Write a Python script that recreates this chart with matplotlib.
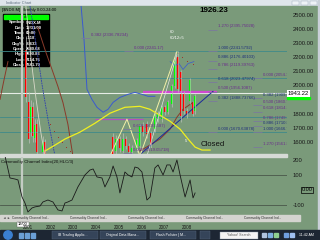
import numpy as np
import matplotlib
matplotlib.use("Agg")
import matplotlib.pyplot as plt
from matplotlib.patches import Rectangle, Circle

plt.rcParams['font.family'] = ['Liberation Sans', 'DejaVu Sans']

# ---- data ----
# monthly candles: year, open, high, low, close
candle_year = [2000.91, 2001.05, 2001.14, 2001.22, 2001.31, 2001.40, 2001.66, 2001.75,
               2004.75, 2004.88, 2005.06, 2005.19, 2005.32, 2005.45, 2005.58, 2005.80,
               2005.93, 2006.06, 2006.24, 2006.41, 2006.59, 2006.72, 2006.90, 2007.04,
               2007.17, 2007.34, 2007.48, 2007.61, 2007.74, 2007.87, 2008.00, 2008.14,
               2008.27, 2008.36]
candle_open = [2250, 1880, 1670, 1845, 1630, 1730, 1530, 1600,
               1634, 1535, 1620, 1535, 1620, 1570, 1530, 1550,
               1570, 1711, 1725, 1660, 1690, 1760, 1761, 1845,
               1810, 1866, 1993, 2204, 2092, 1937, 1817, 1887,
               1880, 1817]
candle_high = [2350, 1950, 1900, 1880, 1760, 1760, 1640, 1620,
               1660, 1650, 1640, 1660, 1640, 1590, 1580, 1630,
               1730, 1740, 1750, 1680, 1810, 1820, 1860, 1860,
               1900, 2010, 2239, 2241, 2110, 1960, 1840, 2055,
               1890, 1940]
candle_low = [1880, 1590, 1640, 1600, 1600, 1500, 1490, 1480,
              1480, 1510, 1530, 1520, 1550, 1500, 1510, 1530,
              1550, 1640, 1630, 1560, 1670, 1740, 1740, 1790,
              1800, 1850, 1980, 1950, 1740, 1800, 1770, 1870,
              1780, 1800]
candle_close = [1915, 1620, 1845, 1640, 1720, 1530, 1600, 1510,
                1500, 1620, 1560, 1620, 1570, 1530, 1560, 1610,
                1711, 1670, 1655, 1580, 1796, 1800, 1845, 1810,
                1880, 1993, 2170, 1972, 1782, 1817, 1796, 2042,
                1800, 1923]

ma_yellow_year = [2001.75, 2002.19, 2002.63, 2003.29, 2003.95, 2004.61, 2005.27, 2005.93,
                  2006.37, 2006.81, 2007.26, 2007.70, 2008.05, 2008.36, 2008.66, 2009.02]
ma_yellow = [1535, 1577, 1620, 1669, 1732, 1803, 1845, 1852,
             1831, 1789, 1746, 1690, 1620, 1563, 1542, 1542]

ma_blue_year = [2003.34, 2003.47, 2003.60, 2003.82, 2004.04, 2004.31, 2004.53, 2004.75,
                2005.05, 2005.41, 2005.71, 2006.02, 2006.29, 2006.59]
ma_blue = [2563, 2324, 1972, 1901, 1845, 1810, 1831, 1880,
           1915, 1937, 1951, 1937, 1923, 1923]

fast_blue_year = [2007.26, 2007.48, 2007.65, 2007.83, 2008.05, 2008.31]
fast_blue = [2169, 2141, 2155, 2113, 2155, 2169]

left_blue_year = [2001.09, 2001.36, 2001.62, 2001.88, 2002.19]
left_blue = [2563, 2289, 2007, 1761, 1500]

band_year = [2000.91, 2001.14, 2001.36, 2001.58, 2001.75]
band = [2563, 2183, 1901, 1655, 1500]

brown_year = [2001.44, 2001.75, 2002.06, 2002.32, 2002.54, 2002.76, 2002.98]
brown = [2408, 2254, 2113, 1993, 1880, 1725, 1500]
brown_left_year = [1999.77, 1999.95, 2000.12]
brown_left = [1901, 2042, 2169]
brown_right_year = [2005.93, 2006.81, 2007.26, 2007.56, 2007.83, 2008.27]
brown_right = [1535, 1620, 1690, 1775, 1831, 1880]

sar_year = [2001.97, 2002.15, 2002.32, 2002.50, 2002.68, 2002.85, 2007.60, 2007.80, 2008.00, 2008.27]
sar = [1725, 1676, 1634, 1599, 1563, 1535, 2232, 2200, 2170, 2155]

zig_year = [2004.61, 2005.36, 2005.93, 2007.56]
zig = [1500, 1761, 1500, 2239]
zig2_year = [2006.24, 2007.56]
zig2 = [1500, 2218]

trend_year = [2005.71, 2009.15]
trend = [1479, 1958]

last_price = 1943.22
fib0_levels = [2241.17, 2054.76, 1775, 1670.64]

fib_labels = ["1.270 (2395.75028)", "1.000 (2241.5792)", "0.886 (2176.40103)",
              "0.786 (2119.39763)", "0.618 (2023.47974)", "0.500 (1956.1087)",
              "0.382 (1888.73766)",
              "0.000 (2054.76)", "0.382 (1909.62708)", "0.500 (1860.73)",
              "0.618 (1814.83892)", "0.786 (1749.76484)", "0.886 (1710.83804)",
              "1.000 (1666.70)", "1.270 (1561.8233)",
              "0.000 (1670.63878)",
              "0.382 (2336.78234)", "0.000 (2241.17)", "0.618 (1691.587)",
              "0.000 (1519.05718)"]
fib_prices = [2395.75, 2241.58, 2176.40, 2119.40, 2023.48, 1956.11, 1888.74,
              2054.76, 1909.63, 1860.73, 1814.84, 1749.76, 1710.84, 1666.70, 1561.82,
              1670.64, 2336.78, 2241.17, 1691.59, 1519.06]
fib_label_year = [2009.37] * 7 + [2011.35] * 8 + [2009.37, 2003.78, 2005.67, 2005.63, 2005.63]
fib_colors = ['#6b2c8c', '#1f2f7a', '#1f2f7a', '#6b2c8c', '#1f2f7a', '#6b2c8c', '#1f2f7a',
              '#6b2c8c', '#1f2f7a', '#6b2c8c', '#6b2c8c', '#6b2c8c', '#1f2f7a', '#1f2f7a',
              '#6b2c8c', '#1f2f7a', '#6b2c8c', '#6b2c8c', '#6b2c8c', '#6b2c8c']

cci_year = [1999.90, 2000.00, 2000.21, 2000.43, 2000.56, 2000.74, 2000.87, 2001.00,
            2001.18, 2001.31, 2001.53, 2001.66, 2001.88, 2002.10, 2002.32, 2002.50,
            2002.63, 2002.76, 2002.94, 2003.20, 2003.51, 2003.73, 2003.87, 2004.04,
            2004.26, 2004.39, 2004.61, 2004.75, 2004.92, 2005.05, 2005.27, 2005.41,
            2005.58, 2005.71, 2005.85, 2006.02, 2006.24, 2006.38, 2006.59, 2006.73,
            2006.95, 2007.12, 2007.26, 2007.39, 2007.56, 2007.70, 2007.92, 2008.14,
            2008.27, 2008.36]
cci = [267, 220, 80, 73, 67, -47, -87, -147,
       -120, -113, -107, -80, -67, -80, -133, -140,
       -87, -80, -67, 20, 100, 133, 140, 87,
       80, 20, 87, 160, 87, -20, 120, 100,
       87, 153, 147, 120, -67, -47, 147, 167,
       100, 167, 167, 120, 200, 100, -47, 67,
       -53, -20]

years = [2001, 2002, 2003, 2004, 2005, 2006, 2007, 2008]
price_ticks = [2500, 2400, 2300, 2200, 2100, 2000, 1800, 1700, 1600]
cci_ticks = [200, 100, -100]

info_keys = ["Symbol:", "Date:", "Time:", "Chg:", "Chg%:", "Open:", "High:", "Low:", "Close:"]
info_vals = ["$NDX.M", "12/31/00", "00:00", "-.118", "-8.633", "2580.68", "2890.83", "2114.76", "2341.70"]

# ---- layout ----
W, H = 320, 240
GREEN = '#7a9a7a'
fig = plt.figure(figsize=(3.2, 2.4), dpi=100)


def px_axes(x0, y0, x1, y1):
    return fig.add_axes([x0 / W, 1 - y1 / H, (x1 - x0) / W, (y1 - y0) / H])


bg = fig.add_axes([0, 0, 1, 1])
bg.set_xlim(0, W)
bg.set_ylim(H, 0)
bg.axis('off')
bg.add_patch(Rectangle((0, 0), W, 6, color='#dfe5eb'))
bg.add_patch(Rectangle((0, 6), W, 224, color=GREEN))
bg.add_patch(Rectangle((0, 154), 287, 2.5, color='#d6dad6'))
bg.add_patch(Rectangle((0, 215), 300, 6, color='#d4d4d0'))
bg.add_patch(Rectangle((318, 0), 2, 230, color='#c9d0d8'))
bg.add_patch(Rectangle((0, 230), W, 10, color='#1d2633'))
bg.text(6, 3, "Indicator Chart", fontsize=2.8, color='#607080', va='center')
for bx in [292, 301, 310]:
    bg.add_patch(Rectangle((bx, 1), 7, 4, fc='#eef2f6', ec='#9aa8b8', lw=0.3))
bg.text(2, 9.5, "[$NDX.M] Monthly 0:00-24:00", fontsize=3, color='black', va='center')
bg.text(214, 10.5, "1926.23", fontsize=5.8, fontweight='bold', ha='center', va='center')
bg.text(213, 145, "Closed", fontsize=5.6, ha='center', va='center', color='#101010')

# tab strip
for tx in [12, 70, 128, 186, 244]:
    bg.text(tx, 218, "Commodity Channel Ind...", fontsize=2.3, color='#303030', va='center')
bg.text(3, 218, "\u25c4 \u25ba", fontsize=2.3, color='#303030', va='center')

# taskbar
bg.add_patch(Circle((8, 235), 4.2, color='#3b7fd0'))
for qx in [19, 25, 31]:
    bg.add_patch(Rectangle((qx, 232.5), 4, 5, color='#6b9fd6'))
for (tx, label) in [(52, "IB Trading Applic..."), (100, "Original Data Mana..."),
                    (150, "Flash Pollster | M...")]:
    bg.add_patch(Rectangle((tx, 231), 46, 8, fc='#354459', ec='#55657a', lw=0.3))
    bg.text(tx + 6, 235, label, fontsize=2.5, color='white', va='center')
bg.add_patch(Rectangle((200, 231), 10, 8, fc='#354459', ec='#55657a', lw=0.3))
bg.add_patch(Rectangle((220, 231.5), 38, 7, fc='#f4f4f4', ec='#8898a8', lw=0.3))
bg.text(239, 235, "Yahoo! Search", fontsize=2.6, color='#555555', ha='center', va='center')
for ix, c in zip([262, 268, 274, 284, 290], ['#b0c4de', '#7fb0e0', '#8fd08f', '#70a0e0', '#a0c0f0']):
    bg.add_patch(Rectangle((ix, 233), 4, 4, color=c))
bg.text(306, 235, "11:42 AM", fontsize=2.6, color='white', ha='center', va='center')

# ---- main price panel ----
X0 = 1999.77
XSPAN = 287 / 22.71
ax = px_axes(0, 6, 287, 154)
ax.set_facecolor('none')
ax.set_xlim(X0, X0 + XSPAN)
ax.set_ylim(1514, 2563)
for s in ax.spines.values():
    s.set_visible(False)
ax.set_xticks([])
ax.yaxis.tick_right()
ax.set_yticks(price_ticks)
ax.set_yticklabels([f"{p:.2f}" for p in price_ticks])
ax.tick_params(axis='y', length=0, pad=4, labelsize=4.2, labelcolor='#1a1a1a')

for lv in fib0_levels:
    ax.axhline(lv, color='#3f8a8a', lw=0.6)
ax.axhline(last_price, color='#e6ece6', lw=0.8)
ax.hlines(1956.11, 2006.07, 2009.33, color='#d048d0', lw=1.6)
ax.hlines(1765, 2003.95, 2006.07, color='#b050c0', lw=0.9)
ax.axvline(2000.74, color='#c4ccc4', lw=1.6)

ax.plot(band_year, band, color='#d8d8c8', lw=0.6)
ax.plot(left_blue_year, left_blue, color='#2c3cb0', lw=0.6, ls=(0, (2, 1)))
ax.plot(brown_year, brown, color='#8a3a2a', lw=0.7)
ax.plot(brown_left_year, brown_left, color='#8a3a2a', lw=0.7)
ax.plot(brown_right_year, brown_right, color='#8a3a2a', lw=0.7)
ax.plot(ma_blue_year, ma_blue, color='#3a5ad0', lw=0.7)
ax.plot(fast_blue_year, fast_blue, color='#3a5ad0', lw=0.5)
ax.plot(trend_year, trend, color='#1c2a9a', lw=0.7)
ax.plot(zig_year, zig, color='#f4f0a8', lw=0.7)
ax.plot(zig2_year, zig2, color='#e4e4e4', lw=0.5)
ax.plot(ma_yellow_year, ma_yellow, color='#f0f020', lw=0.9)
ax.scatter(sar_year, sar, s=0.6, color='#a02820', lw=0)

for y, o, hi, lo, c in zip(candle_year, candle_open, candle_high, candle_low, candle_close):
    col = '#00ff00' if c >= o else '#ff0000'
    ax.vlines(y, lo, hi, color='#b8c0b8', lw=0.5)
    ax.bar(y, c - o, bottom=o, width=0.085, color=col, lw=0)

for txt, p, xl, col in zip(fib_labels, fib_prices, fib_label_year, fib_colors):
    ax.hlines(p, xl - 0.45, xl - 0.05, color='#7a7a9c', lw=0.6)
    ax.text(xl, p + 8, txt, fontsize=3.1, color=col, va='bottom', clip_on=True)

ax.text(2007.26, 2370, "60", fontsize=3, color='white')
ax.text(2007.26, 2330, "60/12=5", fontsize=3, color='white')
ax.text(2007.90, 1600, "5", fontsize=3, color='white')

ax.text(1.003, last_price, "1943.22", transform=ax.get_yaxis_transform(), fontsize=4.2,
        va='center', clip_on=False,
        bbox=dict(boxstyle='square,pad=0.15', fc='white', ec='none'))
bg.add_patch(Rectangle((287, 96.5), 23, 2, color='#00ff00'))

# info box
bg.add_patch(Rectangle((3, 14), 46, 52, color='black'))
bg.add_patch(Rectangle((4, 14.5), 44, 4.5, color='#00ff00'))
bg.text(26, 16.8, "ok", fontsize=2.6, ha='center', va='center')
for i, (k, v) in enumerate(zip(info_keys, info_vals)):
    yy = 22.5 + i * 5.3
    bg.text(25, yy, k, fontsize=3, color='white', ha='right', va='center', fontweight='bold')
    bg.text(26, yy, v, fontsize=3, color='white', ha='left', va='center', fontweight='bold')

# ---- CCI panel ----
cx = px_axes(0, 157, 287, 215)
cx.set_facecolor('none')
cx.set_xlim(X0, X0 + XSPAN)
cx.set_ylim(-167, 220)
for s in cx.spines.values():
    s.set_visible(False)
cx.axhline(100, color='#4a564a', lw=0.6)
cx.axhline(-100, color='#4a564a', lw=0.6)
cx.axvline(2000.74, color='#c4ccc4', lw=1.6)
cx.plot(cci_year, cci, color='#1a1a1a', lw=0.6)
cx.yaxis.tick_right()
cx.set_yticks(cci_ticks)
cx.set_yticklabels([str(t) for t in cci_ticks])
cx.tick_params(axis='y', length=0, pad=4, labelsize=4.2, labelcolor='#1a1a1a')
cx.set_xticks(years)
cx.set_xticklabels([str(y) for y in years])
cx.tick_params(axis='x', length=0, pad=7.3, labelsize=3.3, labelcolor='#1a1a1a')
cx.text(0.004, 0.95, "Commodity Channel Index(20,HLC/3)", transform=cx.transAxes,
        fontsize=3.2, va='top', color='#101010')
cx.text(1.05, 0, "0.00", transform=cx.get_yaxis_transform(), fontsize=4, va='center',
        clip_on=False, bbox=dict(boxstyle='square,pad=0.1', fc=GREEN, ec='black', lw=0.5))

bg.add_patch(Rectangle((17, 221.5), 12, 5.5, fc='white', ec='#606060', lw=0.3))
bg.text(23, 224.3, "12/00", fontsize=2.8, ha='center', va='center')

fig.savefig("out.png", dpi=100)
